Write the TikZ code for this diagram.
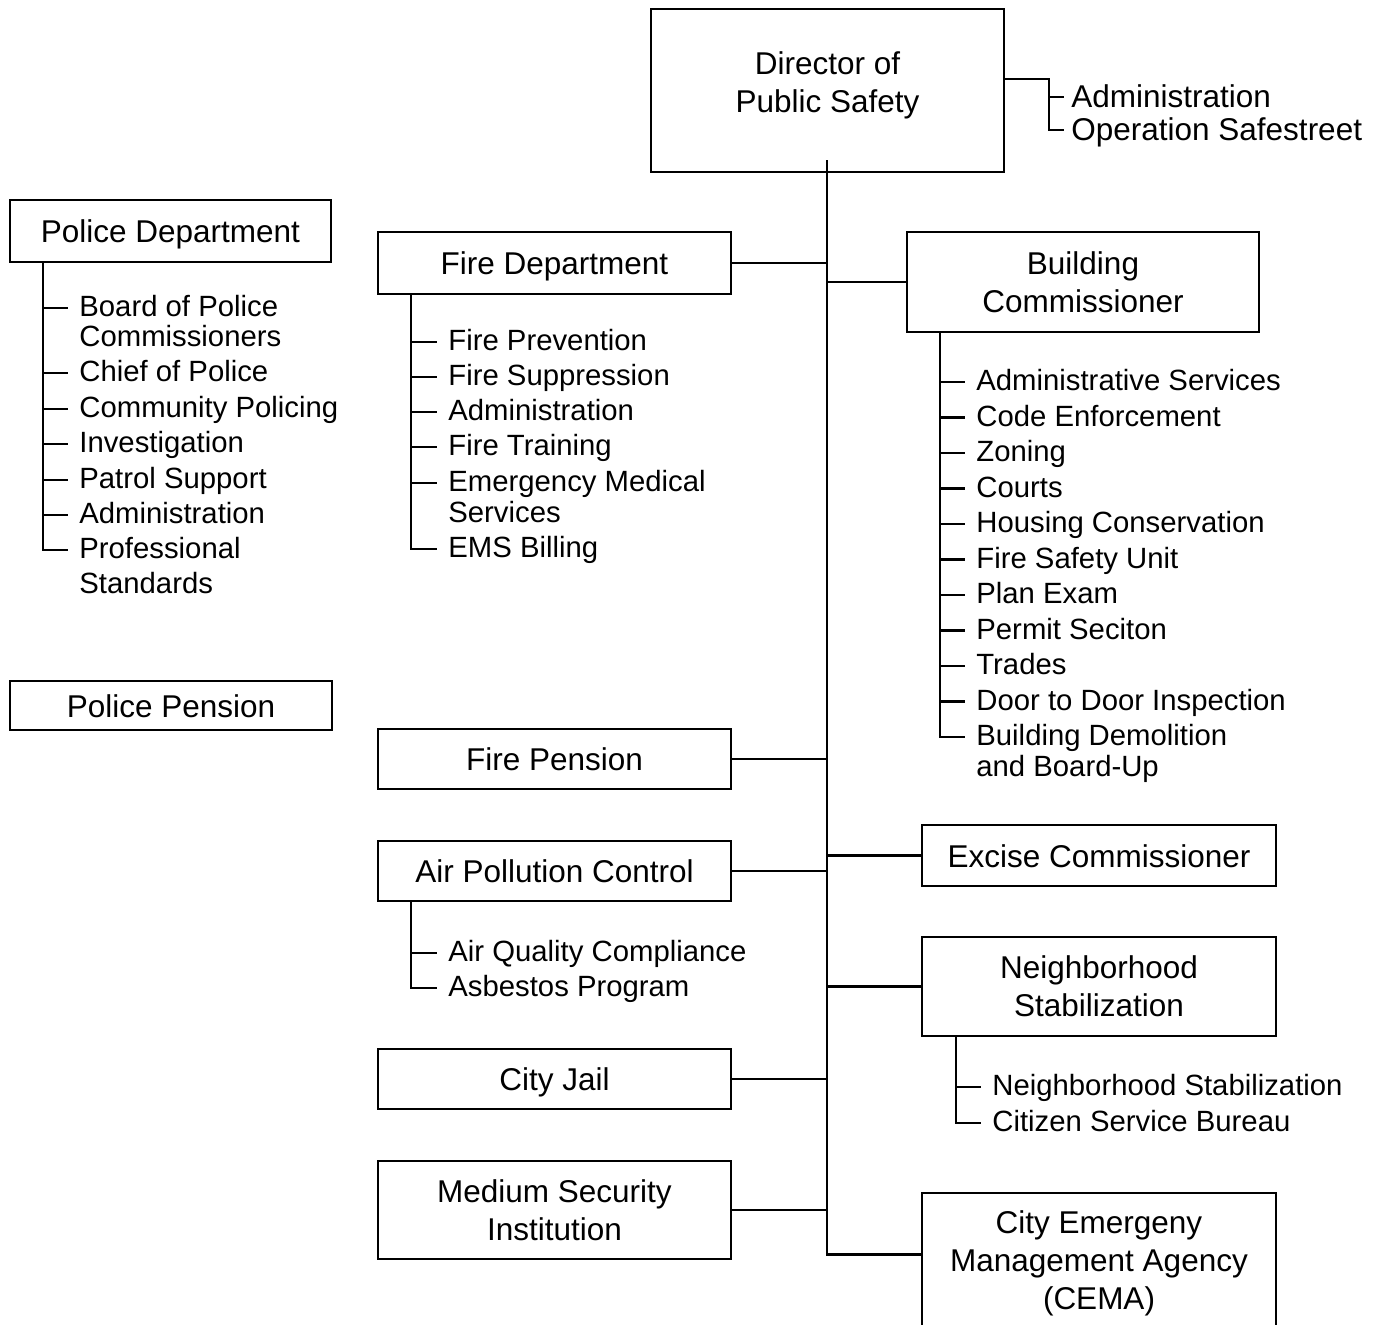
\documentclass[tikz,border=0pt]{standalone}
\usepackage{fontspec}
\setmainfont{Liberation Sans}
\usetikzlibrary{calc}
\newcommand\boxfont{\fontsize{31.5}{38}\selectfont}
\newcommand\itemfont{\fontsize{29.3}{30.5}\selectfont}

\begin{document}
\begin{tikzpicture}[x=1pt,y=-1pt,line width=2.8pt,
  box/.style={draw,inner sep=0pt,align=center,font=\boxfont},
  onebox/.style={box,text height=23pt,text depth=0pt},
  item/.style={anchor=west,inner xsep=10pt,inner ysep=0pt,text height=17pt,text depth=0pt,font=\itemfont}]
\useasboundingbox (0,0) rectangle (1385,1325);
\clip (0,0) rectangle (1385,1325);

% director
\node[box,minimum width=353pt,minimum height=163pt] (dps) at (827.5,90.5) {};
\node[font=\boxfont,align=center] (dpst) at (827.5,85) {Director of\\Public Safety};
\node[item,font=\boxfont,text height=20pt,inner xsep=6pt] (dps1) at (1064,97) {Administration};
\node[item,font=\boxfont,text height=20pt,inner xsep=6pt] (dps2) at (1064,130) {Operation Safestreet};
\coordinate (dpsb) at (1049,79);
\draw ([yshift=11.5pt]dps.east) -- (dpsb) |- (dps1.west) (dpsb) |- (dps2.west);
\coordinate (top) at (827,160);

% police
\node[onebox,minimum width=321pt,minimum height=62pt] (pd) at (170.5,231) {Police Department};
\coordinate (pds) at (43,262);
\node[item] (pd1) at (68,308) {Board of Police};
\node[item] (pd1b) at (68,338) {Commissioners};
\node[item] (pd2) at (68,373) {Chief of Police};
\node[item] (pd3) at (68,409) {Community Policing};
\node[item] (pd4) at (68,444) {Investigation};
\node[item] (pd5) at (68,480) {Patrol Support};
\node[item] (pd6) at (68,515) {Administration};
\node[item] (pd7) at (68,550) {Professional};
\node[item] (pd7b) at (68,585) {Standards};
\draw (pds) |- (pd1.west) (pds) |- (pd2.west) (pds) |- (pd3.west)
  (pds) |- (pd4.west) (pds) |- (pd5.west) (pds) |- (pd6.west)
  (pds) |- (pd7.west);
\node[onebox,minimum width=322pt,minimum height=49pt] (pp) at (171,705.5) {Police Pension};

% left column
\node[onebox,minimum width=353pt,minimum height=62pt] (fd) at (554.5,263) {Fire Department};
\coordinate (fds) at (411,294);
\node[item] (fd1) at (437,342) {Fire Prevention};
\node[item] (fd2) at (437,377) {Fire Suppression};
\node[item] (fd3) at (437,412) {Administration};
\node[item] (fd4) at (437,447) {Fire Training};
\node[item] (fd5) at (437,483) {Emergency Medical};
\node[item] (fd5b) at (437,514) {Services};
\node[item] (fd6) at (437,549) {EMS Billing};
\draw (fds) |- (fd1.west) (fds) |- (fd2.west) (fds) |- (fd3.west)
  (fds) |- (fd4.west) (fds) |- (fd5.west) (fds) |- (fd6.west);
\node[onebox,minimum width=353pt,minimum height=60pt] (fp) at (554.5,759) {Fire Pension};
\node[onebox,minimum width=353pt,minimum height=60pt] (apc) at (554.5,871) {Air Pollution Control};
\coordinate (apcs) at (411,901);
\node[item] (apc1) at (437,953) {Air Quality Compliance};
\node[item] (apc2) at (437,988) {Asbestos Program};
\draw (apcs) |- (apc1.west) (apcs) |- (apc2.west);
\node[onebox,minimum width=353pt,minimum height=60pt] (cj) at (554.5,1079) {City Jail};
\node[box,minimum width=353pt,minimum height=98pt] (msi) at (554.5,1210) {Medium Security\\Institution};

% right column
\node[box,minimum width=352pt,minimum height=100pt] (bc) at (1083,282) {Building\\Commissioner};
\coordinate (bcs) at (940,332);
\node[item] (bc1) at (965,382) {Administrative Services};
\node[item] (bc2) at (965,417.5) {Code Enforcement};
\node[item] (bc3) at (965,453) {Zoning};
\node[item] (bc4) at (965,488.5) {Courts};
\node[item] (bc5) at (965,524) {Housing Conservation};
\node[item] (bc6) at (965,559.5) {Fire Safety Unit};
\node[item] (bc7) at (965,595) {Plan Exam};
\node[item] (bc8) at (965,630.5) {Permit Seciton};
\node[item] (bc9) at (965,666) {Trades};
\node[item] (bc10) at (965,701.5) {Door to Door Inspection};
\node[item] (bc11) at (965,737) {Building Demolition};
\node[item] (bc11b) at (965,768) {and Board-Up};
\draw (bcs) |- (bc1.west) (bcs) |- (bc2.west) (bcs) |- (bc3.west)
  (bcs) |- (bc4.west) (bcs) |- (bc5.west) (bcs) |- (bc6.west)
  (bcs) |- (bc7.west) (bcs) |- (bc8.west) (bcs) |- (bc9.west)
  (bcs) |- (bc10.west) (bcs) |- (bc11.west);
\node[onebox,minimum width=354pt,minimum height=61pt] (ec) at (1099,855.5) {Excise Commissioner};
\node[box,minimum width=354pt,minimum height=99pt] (ns) at (1099,986.5) {Neighborhood\\Stabilization};
\coordinate (nss) at (956,1036);
\node[item] (ns1) at (981,1087) {Neighborhood Stabilization};
\node[item] (ns2) at (981,1123) {Citizen Service Bureau};
\draw (nss) |- (ns1.west) (nss) |- (ns2.west);
\node[box,minimum width=354pt,minimum height=141pt] (cema) at (1099,1263.5) {City Emergeny\\Management Agency\\(CEMA)};

% trunk
\draw (top) |- ([yshift=-63pt]cema.north west);
\draw (fd.east) -- (fd.east -| top);
\draw (fp.east) -- (fp.east -| top);
\draw (apc.east) -- (apc.east -| top);
\draw (cj.east) -- (cj.east -| top);
\draw (msi.east) -- (msi.east -| top);
\draw (bc.west -| top) -- (bc.west);
\draw (ec.west -| top) -- (ec.west);
\draw (ns.west -| top) -- (ns.west);
\end{tikzpicture}
\end{document}
